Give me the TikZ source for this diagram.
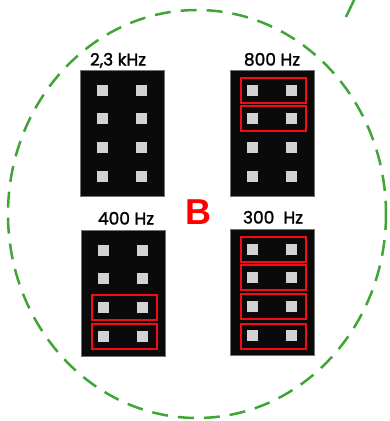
\documentclass[tikz,border=0pt]{standalone}
\usepackage{fontspec}
\setmainfont{Poppins}
\newfontfamily\freqfont[FakeBold=1.5]{Poppins}
\newfontfamily\markfont{Liberation Sans}
\usetikzlibrary{positioning}
\definecolor{ringgreen}{HTML}{3FA535}
\definecolor{pinred}{HTML}{F50A16}
\definecolor{pingray}{HTML}{D2D2D2}

\begin{document}
\begin{tikzpicture}[x=1pt,y=-1pt,
  header/.style={fill=black!96, draw=black!55, line width=1pt,
    minimum width=84pt, minimum height=126pt, inner sep=0pt},
  pin/.style={fill=pingray, minimum size=11pt, inner sep=0pt},
  jumper/.style={draw=pinred, line width=2pt,
    minimum width=65pt, minimum height=25pt, inner sep=0pt},
  freq/.style={font=\freqfont\fontsize{17}{17}\selectfont, inner sep=0pt},
  ring/.style={ringgreen, line width=2.5pt, dash pattern=on 16pt off 10pt}]
\useasboundingbox (0,0) rectangle (390,421);

% dashed rings
\draw[ring] (197,214) ellipse [x radius=189, y radius=204];
\draw[ringgreen, line width=2.5pt] (346,17) -- (355,-2);

% headers
\foreach \name/\x/\y in {tl/122/133, tr/272/133, bl/123/293, br/272/292}
  \node[header] (\name) at (\x,\y) {};

% pins
\foreach \name in {tl,tr,bl,br}
  \foreach \r/\dy in {1/-43,2/-14.5,3/14.5,4/43}
    \foreach \c/\dx in {a/-19.5,b/19.5}
      \node[pin] (\name-\r\c) at ([shift={(\dx,\dy)}]\name) {};

% jumpers
\foreach \name/\r/\dy in {tr/1/-43, tr/2/-14.5, bl/3/14.5, bl/4/43,
    br/1/-43, br/2/-14.5, br/3/14.5, br/4/44}
  \node[jumper] (\name-j\r) at ([shift={(1,\dy)}]\name) {};

% labels
\node[freq, above=4pt of tl, anchor=base, xshift=-4pt] (tl-label) {2,3 kHz};
\node[freq, above=4pt of tr, anchor=base] (tr-label) {800 Hz};
\node[freq, above=5pt of bl, anchor=base, xshift=3pt] (bl-label) {400 Hz};
\node[freq, above=5pt of br, anchor=base, xshift=1pt] (br-label) {300\ \ Hz};

\node[font=\markfont\bfseries\fontsize{36}{36}\selectfont, text=red, inner sep=0pt]
  (mark) at (198,212) {B};
\end{tikzpicture}
\end{document}
